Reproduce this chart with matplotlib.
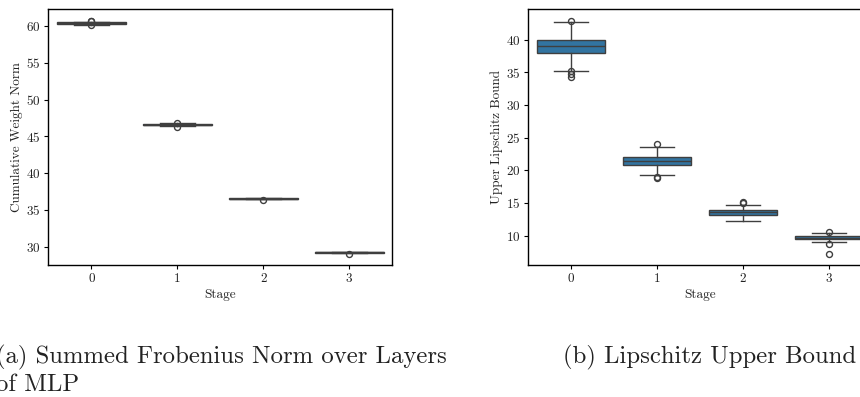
import matplotlib
matplotlib.use("Agg")
import matplotlib.pyplot as plt
import numpy as np

plt.rcParams['font.family'] = ['cmr10', 'DejaVu Serif']
plt.rcParams['axes.formatter.use_mathtext'] = True
plt.rcParams['mathtext.fontset'] = 'cm'

stages = [0, 1, 2, 3]

# Panel (a): summed Frobenius norm (box statistics per stage)
a_q1 = [60.28, 46.52, 36.48, 29.19]
a_med = [60.37, 46.60, 36.53, 29.23]
a_q3 = [60.47, 46.68, 36.58, 29.28]
a_lo = [60.17, 46.42, 36.42, 29.13]
a_hi = [60.58, 46.78, 36.64, 29.34]
a_fliers = [[60.10, 60.68, 60.64], [46.27, 46.87], [36.28], [29.05]]

# Panel (b): Lipschitz upper bound
b_q1 = [38.00, 20.86, 13.20, 9.45]
b_med = [39.02, 21.45, 13.58, 9.65]
b_q3 = [39.95, 21.98, 13.95, 9.90]
b_lo = [35.25, 19.27, 12.28, 8.96]
b_hi = [42.70, 23.48, 14.68, 10.40]
b_fliers = [[42.85, 35.15, 34.75, 34.30], [24.05, 18.96, 18.75], [15.20, 14.98], [10.48, 8.78, 7.23]]

xlabel = "Stage"
a_ylabel = "Cumulative Weight Norm"
b_ylabel = "Upper Lipschitz Bound"
a_caption_lines = ["(a) Summed Frobenius Norm over Layers", "of MLP"]
b_caption = "(b) Lipschitz Upper Bound"

box_color = "#3274a1"
line_color = "#3f3f3f"

fig = plt.figure(figsize=(8.6, 3.97), dpi=100)
W, H = 860, 397

def make_ax(px0, px1, py0, py1):
    return fig.add_axes([px0 / W, 1 - py1 / H, (px1 - px0) / W, (py1 - py0) / H])

axA = make_ax(48.3, 392.3, 9.3, 265.3)
axB = make_ax(528, 872, 9.3, 265.3)

def draw(ax, q1, med, q3, lo, hi, fliers, ylabel, yticks):
    stats = []
    for i in range(len(stages)):
        stats.append(dict(q1=q1[i], med=med[i], q3=q3[i], whislo=lo[i], whishi=hi[i],
                          fliers=fliers[i], label=str(stages[i])))
    ax.bxp(stats, positions=stages, widths=0.8, capwidths=0.4, patch_artist=True,
           boxprops=dict(facecolor=box_color, edgecolor=line_color, linewidth=1.0),
           medianprops=dict(color=line_color, linewidth=1.0),
           whiskerprops=dict(color=line_color, linewidth=1.0),
           capprops=dict(color=line_color, linewidth=1.0),
           flierprops=dict(marker='o', markerfacecolor='none', markeredgecolor=line_color,
                           markersize=4.3, markeredgewidth=1.0))
    allv = np.concatenate([lo, hi] + [np.array(f) for f in fliers])
    vmin, vmax = allv.min(), allv.max()
    pad = (vmax - vmin) * 0.05
    ax.set_ylim(vmin - pad, vmax + pad)
    ax.set_xlim(-0.5, len(stages) - 0.5)
    ax.set_xticks(stages)
    ax.set_xticklabels([str(s) for s in stages])
    ax.set_yticks(yticks)
    ax.set_xlabel(xlabel, fontsize=9.5, color="#222222", labelpad=3)
    ax.set_ylabel(ylabel, fontsize=9.5, color="#222222", labelpad=2)
    ax.tick_params(labelsize=9.5, labelcolor="#222222", length=3, width=0.8, pad=2.5)
    for s in ax.spines.values():
        s.set_linewidth(1.0)
        s.set_color("black")

draw(axA, a_q1, a_med, a_q3, a_lo, a_hi, a_fliers, a_ylabel, [30, 35, 40, 45, 50, 55, 60])
draw(axB, b_q1, b_med, b_q3, b_lo, b_hi, b_fliers, b_ylabel, [10, 15, 20, 25, 30, 35, 40])

cap_fs = 17.8
fig.text(-4 / W, 1 - 363 / H, a_caption_lines[0], fontsize=cap_fs, ha='left', va='baseline',
         color="#222222")
fig.text(-4 / W, 1 - 391 / H, a_caption_lines[1], fontsize=cap_fs, ha='left', va='baseline',
         color="#222222")
fig.text(563 / W, 1 - 363 / H, b_caption, fontsize=cap_fs, ha='left', va='baseline',
         color="#222222")

fig.savefig("out.png", dpi=100)
